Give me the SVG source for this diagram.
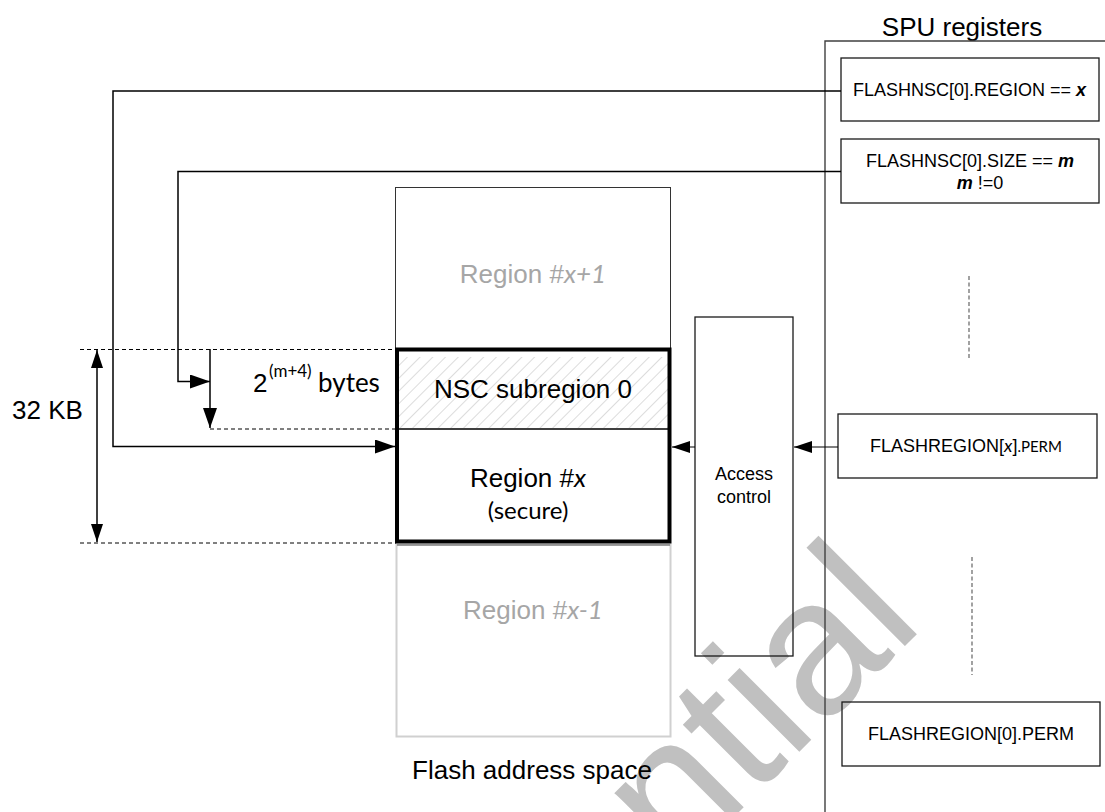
<svg xmlns="http://www.w3.org/2000/svg" width="1105" height="812" viewBox="0 0 1105 812">
<style>
  .t { font-family: "Liberation Sans", Arial, sans-serif; fill: #000; }
  .c { font-family: Lato, "Liberation Sans", sans-serif; }
  .cb { font-family: Lato, "Liberation Sans", sans-serif; fill: #000; }
  .big { font-size: 26px; }
  .reg { font-size: 18px; }
  .grey { fill: #a6a6a6; }
  .box { fill: none; stroke: #1a1a1a; stroke-width: 1.3; }
  .ln { fill: none; stroke: #000; stroke-width: 1.5; }
  .dash { fill: none; stroke: #000; stroke-width: 1; stroke-dasharray: 4 3; }
  .vdash { fill: none; stroke: #707070; stroke-width: 1.3; stroke-dasharray: 4 2.5; }
</style>
<defs>
  <marker id="ah" viewBox="0 0 20 14" refX="20" refY="7" markerWidth="20" markerHeight="14" markerUnits="userSpaceOnUse" orient="auto-start-reverse">
    <path d="M0,0 L20,7 L0,14 z" fill="#000"/>
  </marker>
  <marker id="ahs" viewBox="0 0 18 12" refX="18" refY="6" markerWidth="18" markerHeight="12" markerUnits="userSpaceOnUse" orient="auto-start-reverse">
    <path d="M0,0 L18,6 L0,12 z" fill="#000"/>
  </marker>
  <pattern id="hatch" patternUnits="userSpaceOnUse" width="9" height="9" patternTransform="rotate(45)">
    <line x1="0" y1="0" x2="0" y2="9" stroke="#dcdcdc" stroke-width="2"/>
  </pattern>
</defs>
<rect x="0" y="0" width="1105" height="812" fill="#fff"/>

<!-- watermark -->
<text class="t" font-size="192" style="fill:#c0c0c0" transform="translate(209,1342) rotate(-45)">Confidential</text>

<!-- SPU registers container -->
<g id="spu">
  <text class="t big" x="962" y="36" text-anchor="middle">SPU registers</text>
  <path d="M825,812 V41 H1105" fill="none" stroke="#404040" stroke-width="1.4"/>
  <line class="vdash" x1="969" y1="276" x2="969" y2="359"/>
  <line class="vdash" x1="972" y1="557" x2="972" y2="675"/>
</g>

<g id="reg-nsc-region">
  <rect class="box" x="841" y="58" width="258" height="63"/>
  <text class="t reg" x="853" y="96">FLASHNSC[0].REGION == <tspan font-weight="bold" font-style="italic">x</tspan></text>
</g>

<g id="reg-nsc-size">
  <rect class="box" x="841" y="139" width="258" height="64"/>
  <text class="t reg" x="970" y="167" text-anchor="middle">FLASHNSC[0].SIZE == <tspan font-weight="bold" font-style="italic">m</tspan></text>
  <text class="t reg" x="980" y="189" text-anchor="middle"><tspan font-weight="bold" font-style="italic">m</tspan> !=0</text>
</g>

<g id="reg-region-x">
  <rect class="box" x="838" y="414" width="259" height="64"/>
  <text class="t reg" x="870" y="452">FLASHREGION[<tspan class="c" font-style="italic">x</tspan>]<tspan class="c" font-size="15">.PERM</tspan></text>
</g>

<g id="reg-region-0">
  <rect class="box" x="842" y="702" width="258" height="64"/>
  <text class="t reg" x="971" y="740" text-anchor="middle">FLASHREGION[0].PERM</text>
</g>

<g id="access-control">
  <rect class="box" x="695" y="317" width="98" height="339"/>
  <text class="t reg" x="744" y="480" text-anchor="middle">Access</text>
  <text class="t reg" x="744" y="503" text-anchor="middle">control</text>
</g>

<!-- Flash address space -->
<g id="region-x-plus-1">
  <rect x="395.5" y="187.5" width="275" height="162" fill="none" stroke="#333" stroke-width="1"/>
  <text class="t big grey" x="533" y="283" text-anchor="middle">Region #<tspan class="c" font-style="italic">x+1</tspan></text>
</g>

<g id="region-x-minus-1">
  <rect x="396.5" y="544.5" width="274" height="192" fill="none" stroke="#d0d0d0" stroke-width="2"/>
  <line x1="397" y1="545" x2="670" y2="545" stroke="#555" stroke-width="1"/>
  <text class="t big grey" x="533" y="619" text-anchor="middle">Region #<tspan class="c" font-style="italic">x-1</tspan></text>
</g>

<g id="nsc-subregion">
  <rect x="399" y="357" width="269" height="71" fill="url(#hatch)"/>
  <text class="t big" x="533" y="398" text-anchor="middle">NSC subregion 0</text>
</g>

<g id="region-x">
  <line x1="397" y1="429" x2="669" y2="429" stroke="#000" stroke-width="1.3"/>
  <text class="t big" x="528" y="487" text-anchor="middle">Region #<tspan class="c" font-style="italic">x</tspan></text>
  <text class="cb" font-size="24" x="528" y="519" text-anchor="middle">(secure)</text>
  <rect x="397" y="349.5" width="272.5" height="192" fill="none" stroke="#000" stroke-width="4"/>
</g>

<g id="flash-label">
  <text class="t big" x="532" y="779" text-anchor="middle">Flash address space</text>
</g>

<g id="size-labels">
  <text class="t big" x="12" y="419">32 KB</text>
  <text class="t big" x="253" y="392">2</text>
  <text class="cb" font-size="17" x="269" y="377">(m+4)</text>
  <text class="cb big" x="318" y="392">bytes</text>
</g>

<!-- connectors -->
<g id="connectors">
  <line class="dash" x1="80" y1="349.5" x2="396" y2="349.5"/>
  <line class="dash" x1="210" y1="429" x2="396" y2="429"/>
  <line class="dash" x1="80" y1="543" x2="396" y2="543"/>
  <line class="ln" x1="97" y1="350" x2="97" y2="542" marker-start="url(#ahs)" marker-end="url(#ahs)"/>
  <polyline class="ln" points="841,91 113,91 113,446.5 395,446.5" marker-end="url(#ah)"/>
  <polyline class="ln" points="841,171.5 178,171.5 178,381.5 210,381.5" marker-end="url(#ah)"/>
  <line class="ln" x1="210" y1="349" x2="210" y2="428" marker-end="url(#ah)"/>
  <line x1="695" y1="447" x2="672" y2="447" stroke="#000" stroke-width="1" marker-end="url(#ahs)"/>
  <line x1="838" y1="447" x2="794" y2="447" stroke="#000" stroke-width="1" marker-end="url(#ahs)"/>
</g>
</svg>
